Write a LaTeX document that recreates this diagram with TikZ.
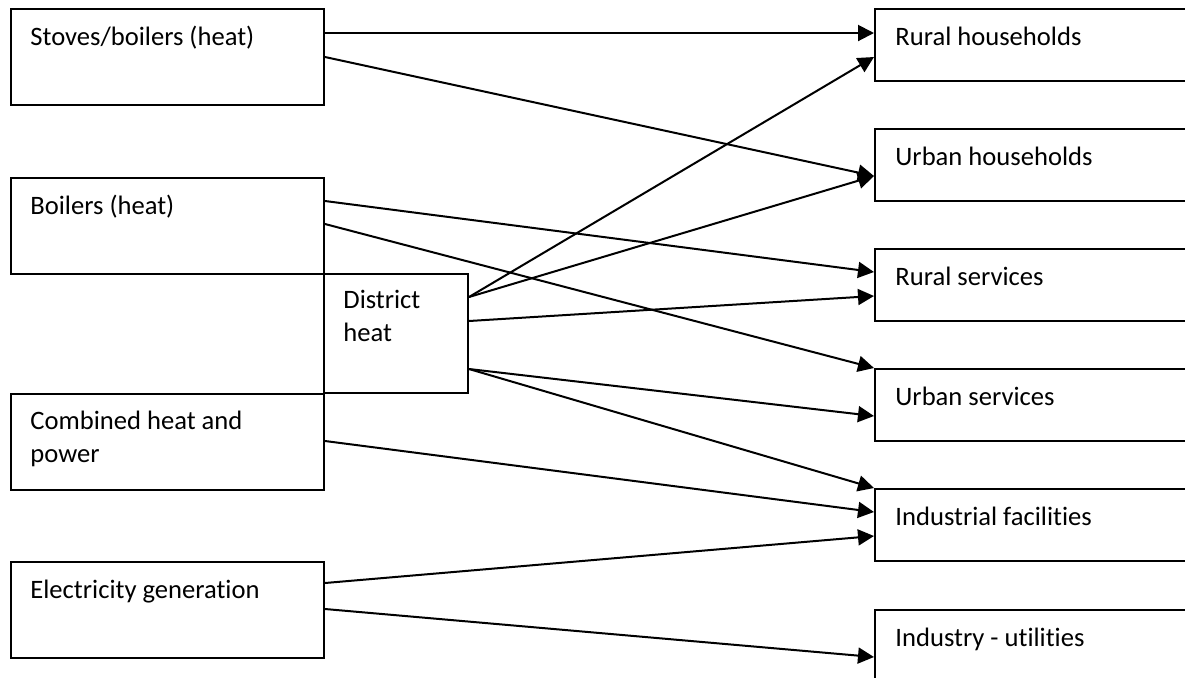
\documentclass[tikz,border=0pt]{standalone}
\usepackage{fontspec}
\setmainfont{Carlito}[Ligatures = NoCommon]
\usetikzlibrary{arrows.meta}

\tikzset{
	srcbox/.style = {draw, line width = 1pt, anchor = north west, inner sep = 0pt, minimum width = 156.5pt, minimum height = 48pt},
	dstbox/.style = {srcbox, minimum height = 36pt},
	hubbox/.style = {srcbox, minimum width = 72pt, minimum height = 59.5pt},
	boxtext/.style = {anchor = base west, inner sep = 0pt, align = left, font = \fontsize{13.3}{16.5}\selectfont},
	flow/.style = {line width = 1pt, -{Triangle[length = 8pt, width = 8pt]}}
}

\begin{document}
\begin{tikzpicture}[x = 0.5pt, y = -0.5pt]
	\useasboundingbox (0, 0) rectangle (1185, 677);
	\clip (0, 0) rectangle (1185, 677);
	\foreach \name/\y/\dy/\txt in {stoves/8/18.5/{Stoves/boilers (heat)}, boilers/177/18.5/{Boilers (heat)}, chp/393/34.5/{Combined heat and\\power}, elec/561/18.5/{Electricity generation}} {
			\node[srcbox] (\name) at (10, \y) {};
			\node[boxtext] (\name-t) at ([xshift = 10pt, yshift = -\dy pt]\name.north west) {\txt};
		}
	\node[hubbox] (district) at (323, 273) {};
	\node[boxtext] (district-t) at ([xshift = 10pt, yshift = -34pt]district.north west) {District\\heat};
	\foreach \name/\y/\txt in {rhh/8/{Rural households}, uhh/128/{Urban households}, rsv/248/{Rural services}, usv/368/{Urban services}, ind/488/{Industrial facilities}, util/609/{Industry - utilities}} {
			\node[dstbox] (\name) at (874, \y) {};
			\node[boxtext] (\name-t) at ([xshift = 10.5pt, yshift = -18.5pt]\name.north west) {\txt};
		}
	\foreach \a/\da/\b/\db in {stoves/12.5/rhh/12.5, stoves/24.5/uhh/24, boilers/12/rsv/12, boilers/23.5/usv/0, district/12/rhh/24.5, district/12/uhh/24, district/24/rsv/24, district/48/usv/24, district/48/ind/0, chp/24/ind/12, elec/11/ind/24, elec/24/util/24} {
			\draw[flow] ([yshift = -\da pt]\a.north east) -- ([yshift = -\db pt]\b.north west);
		}
\end{tikzpicture}
\end{document}
